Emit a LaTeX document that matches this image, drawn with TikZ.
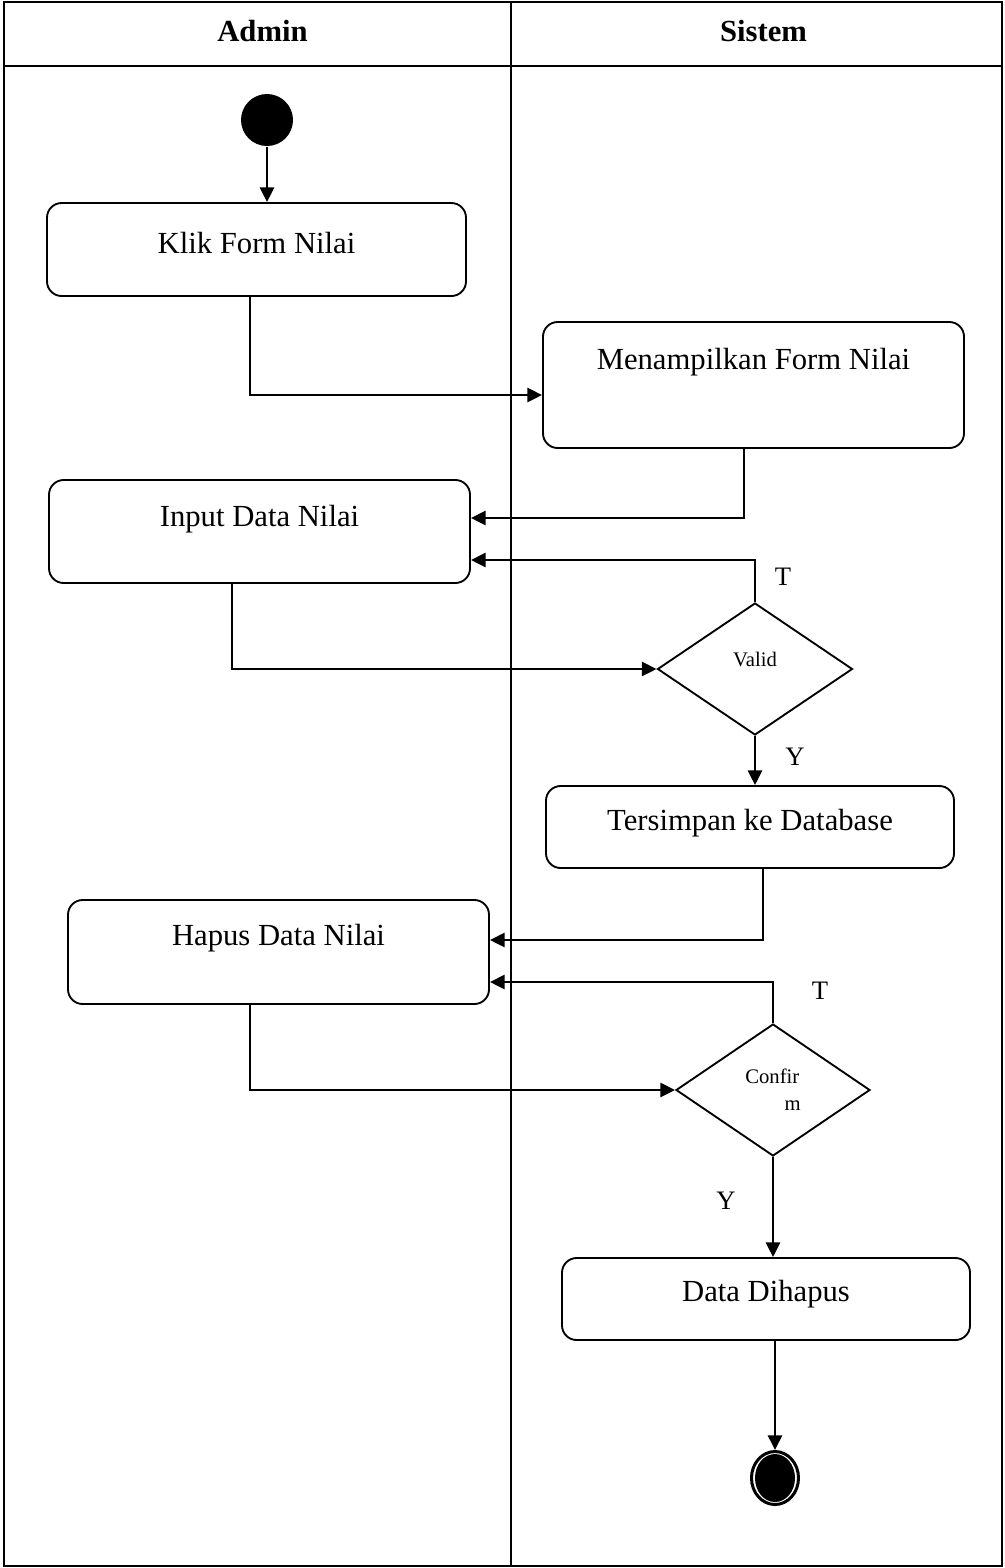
\documentclass[tikz,border=0pt]{standalone}
\usepackage{fontspec}
\setmainfont{Liberation Serif}
\usetikzlibrary{shapes.geometric,arrows.meta,calc}

\tikzset{every picture/.style={line width=0.75pt}}
\tikzset{
  lane/.style={line width=1.5pt},
  actbox/.style={draw, rounded corners=11pt, line width=1.4pt},
  decision/.style={draw, diamond, line width=1.4pt, inner sep=0pt, font=\fontsize{15.5}{20}\selectfont},
  flow/.style={line width=1.9pt, -{Triangle[length=11pt,width=10.5pt]}},
  head/.style={font=\fontsize{23}{27}\selectfont\bfseries, inner sep=0.75pt},
  lbl/.style={font=\fontsize{23}{27}\selectfont, inner sep=0.75pt},
  guard/.style={font=\fontsize{20}{24}\selectfont, inner sep=0.75pt},
}

\begin{document}
\begin{tikzpicture}[x=0.75pt,y=0.75pt,yscale=-1,xscale=1]
\useasboundingbox (0,0) rectangle (1005,1568);
%Swimlanes
\draw[lane] (4,2) rectangle (1002,1566);
\draw[lane] (4,66) -- (1002,66);
\draw[lane] (511,2) -- (511,1566);
\node[head] (hAdmin) at (262.5,31) {Admin};
\node[head] (hSistem) at (763.5,31) {Sistem};
%Start / end
\node[circle, fill=black, minimum size=39pt, inner sep=0pt] (start) at (267,120) {};
\node[ellipse, draw, line width=2.25pt, minimum width=35.25pt, minimum height=39.75pt, inner sep=0pt] (end) at (775,1478) {};
\node[ellipse, fill=black, minimum width=30pt, minimum height=36pt, inner sep=0pt] (endDot) at (end.center) {};
%Activities
\node[actbox, minimum width=314.25pt, minimum height=69.75pt] (klik) at (256.5,249.5) {};
\node[lbl] (tKlik) at ($(klik.north)+(0,41)$) {Klik Form Nilai};
\node[actbox, minimum width=315.75pt, minimum height=94.5pt] (tampil) at (753.5,385) {};
\node[lbl] (tTampil) at ($(tampil.north)+(0,41)$) {Menampilkan Form Nilai};
\node[actbox, minimum width=315.75pt, minimum height=77.25pt] (input) at (259.5,531.5) {};
\node[lbl] (tInput) at ($(input.north)+(0,40)$) {Input Data Nilai};
\node[actbox, minimum width=306pt, minimum height=61.5pt] (simpan) at (750,827) {};
\node[lbl] (tSimpan) at ($(simpan.north)+(0,38)$) {Tersimpan ke Database};
\node[actbox, minimum width=315.75pt, minimum height=78pt] (hapus) at (278.5,952) {};
\node[lbl] (tHapus) at ($(hapus.north)+(0,39)$) {Hapus Data Nilai};
\node[actbox, minimum width=306pt, minimum height=61.5pt] (dihapus) at (766,1299) {};
\node[lbl] (tDihapus) at ($(dihapus.north)+(0,37)$) {Data Dihapus};
%Decisions
\node[decision, minimum width=146.25pt, minimum height=99pt, text depth=15pt] (valid) at (755,669) {Valid};
\node[decision, minimum width=145.5pt, minimum height=99pt, align=left] (confirm) at (773,1090) {Confir\\\hspace*{1.9em}m};
%Flows
\draw[flow] (start.south) -- (start.south |- klik.north);
\draw[flow] ($(klik.south)+(-6.5,0)$) |- ($(tampil.west)+(0,10)$);
\draw[flow] ($(tampil.south)+(-9.5,0)$) |- ($(input.east)+(0,-13.5)$);
\draw[flow] (valid.north) |- ($(input.east)+(0,28.5)$);
\draw[flow] ($(input.south)+(-27.5,0)$) |- (valid.west);
\draw[flow] (valid.south) -- (valid.south |- simpan.north);
\draw[flow] ($(simpan.south)+(13,0)$) |- ($(hapus.east)+(0,-12)$);
\draw[flow] (confirm.north) |- ($(hapus.east)+(0,30)$);
\draw[flow] ($(hapus.south)+(-28.5,0)$) |- (confirm.west);
\draw[flow] (confirm.south) -- (confirm.south |- dihapus.north);
\draw[flow] (end.north |- dihapus.south) -- (end.north);
%Guards
\node[guard] (gT1) at (783,577) {T};
\node[guard] (gY1) at (795,757) {Y};
\node[guard] (gT2) at (820,991) {T};
\node[guard] (gY2) at (726,1201) {Y};
\end{tikzpicture}
\end{document}
